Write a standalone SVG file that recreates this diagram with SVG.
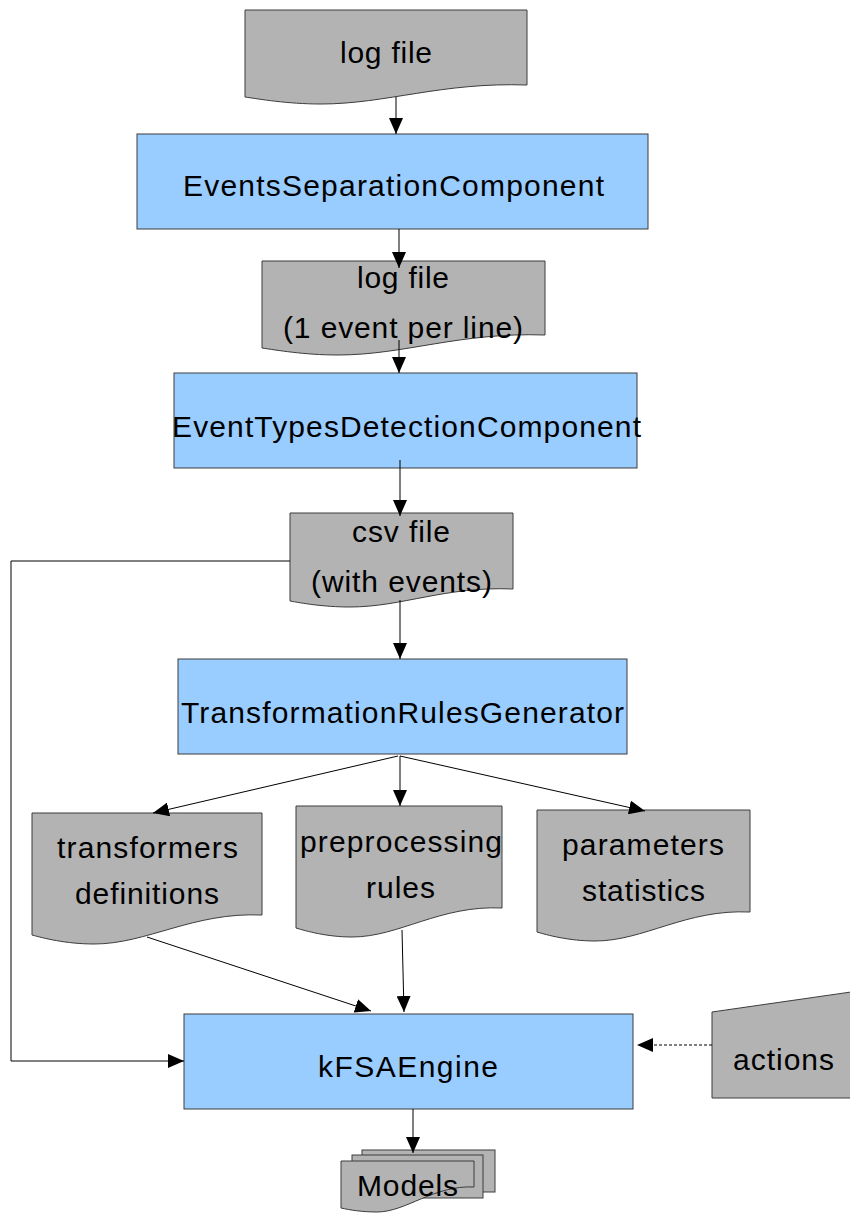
<svg xmlns="http://www.w3.org/2000/svg" width="850" height="1213" viewBox="0 0 850 1213">
<defs>
<style>
.doc{fill:#b3b3b3;stroke:#3c3c3c;stroke-width:1}
.box{fill:#99ccff;stroke:#3c3c3c;stroke-width:1}
.t{font-family:"Liberation Sans",Arial,sans-serif;font-size:30px;fill:#000;text-anchor:middle}
.c{fill:none;stroke:#000;stroke-width:1}
.dot{stroke-dasharray:3,2}
</style>
<marker id="ah" markerUnits="userSpaceOnUse" markerWidth="16" markerHeight="14" viewBox="0 0 16 14" refX="16" refY="7" orient="auto">
<path d="M0,0 L16,7 L0,14 Z" fill="#000"/>
</marker>
</defs>
<rect width="850" height="1213" fill="#fff"/>
<g id="logfile1">
<path class="doc" d="M245,10 H527 V85 C442,82 386,104 321,104 C287,104 259,99 245,97 Z"/>
<text class="t" x="386" y="63" textLength="92" lengthAdjust="spacing">log file</text>
</g>
<g id="eventsSeparation">
<rect class="box" x="137" y="134" width="511" height="95"/>
<text class="t" x="393.5" y="196" textLength="421" lengthAdjust="spacing">EventsSeparationComponent</text>
</g>
<g id="logfile2">
<path class="doc" d="M262,261 H545 V335 C460,332 404,355 338,355 C304,355 276,350 262,348 Z"/>
<text class="t" x="403" y="288" textLength="92" lengthAdjust="spacing">log file</text>
<text class="t" x="403" y="338" textLength="240" lengthAdjust="spacing">(1 event per line)</text>
</g>
<g id="eventTypesDetection">
<rect class="box" x="174" y="373" width="463" height="95"/>
<text class="t" x="406.5" y="437" textLength="469" lengthAdjust="spacing">EventTypesDetectionComponent</text>
</g>
<g id="csvfile">
<path class="doc" d="M290,513 H513 V589 C446,586 402,607 350,607 C323,607 301,603 290,601 Z"/>
<text class="t" x="401" y="542" textLength="98" lengthAdjust="spacing">csv file</text>
<text class="t" x="401.5" y="592" textLength="181" lengthAdjust="spacing">(with events)</text>
</g>
<g id="transformationRules">
<rect class="box" x="178" y="659" width="449" height="95"/>
<text class="t" x="402.5" y="723" textLength="443" lengthAdjust="spacing">TransformationRulesGenerator</text>
</g>
<g id="transformers">
<path class="doc" d="M32,813 H262 V915 C193,912 147,944 94,944 C66,944 43,938 32,935 Z"/>
<text class="t" x="147.5" y="858" textLength="181" lengthAdjust="spacing">transformers</text>
<text class="t" x="147" y="904" textLength="144" lengthAdjust="spacing">definitions</text>
</g>
<g id="preprocessing">
<path class="doc" d="M296,806 H502 V908 C440,905 399,937 352,937 C327,937 306,931 296,928 Z"/>
<text class="t" x="401" y="852" textLength="202" lengthAdjust="spacing">preprocessing</text>
<text class="t" x="400.5" y="898" textLength="69" lengthAdjust="spacing">rules</text>
</g>
<g id="parameters">
<path class="doc" d="M537,810 H750 V912 C686,909 644,941 595,941 C569,941 547,935 537,932 Z"/>
<text class="t" x="643" y="855" textLength="162" lengthAdjust="spacing">parameters</text>
<text class="t" x="643.5" y="901" textLength="123" lengthAdjust="spacing">statistics</text>
</g>
<g id="kFSAEngine">
<rect class="box" x="184" y="1014" width="449" height="95"/>
<text class="t" x="408" y="1077" textLength="180" lengthAdjust="spacing">kFSAEngine</text>
</g>
<g id="actions">
<path class="doc" d="M712,1012 L851,992 V1098 H712 Z"/>
<text class="t" x="783.5" y="1070" textLength="101" lengthAdjust="spacing">actions</text>
</g>
<g id="models">
<rect class="doc" x="362" y="1150" width="133" height="42"/>
<rect class="doc" x="352" y="1155" width="131" height="43"/>
<path class="doc" d="M341,1161 H474 V1187 C434,1185 406,1212 377,1212 C362,1212 350,1210 341,1208 Z"/>
<text class="t" x="407.5" y="1196" textLength="101" lengthAdjust="spacing">Models</text>
</g>
<g id="connectors">
<path class="c" d="M396,97 V134" marker-end="url(#ah)"/>
<path class="c" d="M399,229 V268" marker-end="url(#ah)"/>
<path class="c" d="M399,340 V373" marker-end="url(#ah)"/>
<path class="c" d="M400,460 V516" marker-end="url(#ah)"/>
<path class="c" d="M400,600 V659" marker-end="url(#ah)"/>
<path class="c" d="M290,561 H11 V1061 H184" marker-end="url(#ah)"/>
<path class="c" d="M398,756 L153,813" marker-end="url(#ah)"/>
<path class="c" d="M400,756 V806" marker-end="url(#ah)"/>
<path class="c" d="M400,756 L645,811" marker-end="url(#ah)"/>
<path class="c" d="M147,937 L371,1011" marker-end="url(#ah)"/>
<path class="c" d="M402,930 L404,1012" marker-end="url(#ah)"/>
<path class="c dot" d="M712,1045 H637" marker-end="url(#ah)"/>
<path class="c" d="M413,1109 V1153" marker-end="url(#ah)"/>
</g>
</svg>
